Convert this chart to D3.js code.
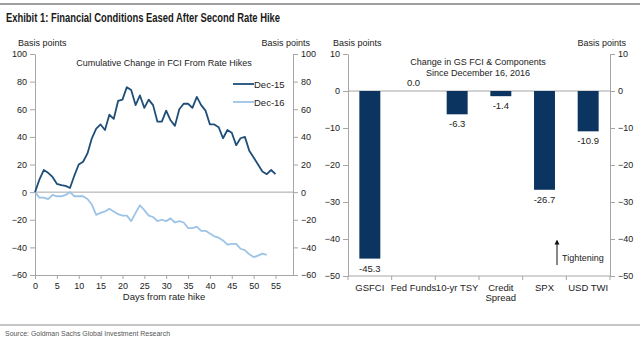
<!DOCTYPE html>
<html>
<head>
<meta charset="utf-8">
<script src="https://cdn.jsdelivr.net/npm/d3@7"></script>
<style>
  body { margin: 0; background: #fff; }
  svg text { font-family: "Liberation Sans", Arial, sans-serif; fill: #222; }
  .axis path, .axis line { stroke: #a6a6a6; }
</style>
</head>
<body>
<svg id="chart" width="640" height="343"></svg>
<script>
// left panel: cumulative change in FCI, days from rate hike
var dec15 = [0, 9, 16, 14, 11, 6, 5, 4.5, 3, 12, 20, 22, 28, 39, 46, 49, 45, 56, 53, 66,
  67, 76, 74, 63, 70, 61, 67, 63, 51, 51, 59, 52, 48, 60, 64, 64, 61, 69, 63, 59,
  49, 49, 47, 39, 45, 43, 34, 39, 40, 30, 25, 20, 15, 13, 16, 13];
var dec16 = [0, -4, -4, -5, -2, -3, -3, -2, 0, -3, -3, -3, -5, -9, -16.5, -15, -14, -12, -14, -16,
  -17, -17, -21, -15, -9.5, -13, -17, -18, -21, -20, -21, -19, -22, -21, -22, -26, -26, -25, -28, -28,
  -30, -32, -33, -35, -38, -37.5, -37.5, -41, -42, -45, -47, -46, -44.5, -45.5];
var seriesNames = ['Dec-15', 'Dec-16'];
var seriesColors = ['#1f4e79', '#9dc3e6'];
var leftTicksY = [-60, -40, -20, 0, 20, 40, 60, 80, 100];
var leftTicksX = [0, 5, 10, 15, 20, 25, 30, 35, 40, 45, 50, 55];

// right panel: change in GS FCI & components
var categories = ['GSFCI', 'Fed Funds', '10-yr TSY', 'Credit\nSpread', 'SPX', 'USD TWI'];
var changes = [-45.3, 0.0, -6.3, -1.4, -26.7, -10.9];
var rightTicksY = [-50, -40, -30, -20, -10, 0, 10];

var svg = d3.select('#chart');

// header / footer
svg.append('line').attr('x1', 0).attr('x2', 640).attr('y1', 4).attr('y2', 4)
  .attr('stroke', '#7f7f7f').attr('stroke-width', 1.5);
svg.append('text').attr('x', 6).attr('y', 22)
  .attr('textLength', 274).attr('lengthAdjust', 'spacingAndGlyphs')
  .style('font-weight', 'bold').style('font-size', '12px').style('fill', '#1a1a1a')
  .text('Exhibit 1: Financial Conditions Eased After Second Rate Hike');
svg.append('line').attr('x1', 0).attr('x2', 640).attr('y1', 325).attr('y2', 325)
  .attr('stroke', '#8c8c8c').attr('stroke-width', 1);
svg.append('text').attr('x', 5).attr('y', 336)
  .attr('textLength', 165).attr('lengthAdjust', 'spacingAndGlyphs')
  .style('font-size', '8px').style('fill', '#555')
  .text('Source: Goldman Sachs Global Investment Research');

function label(x, y, txt, anchor, size){
  return svg.append('text').attr('x', x).attr('y', y)
    .attr('text-anchor', anchor || 'start')
    .style('font-size', (size || 9) + 'px')
    .text(txt);
}

function styleAxis(g){
  g.attr('class', 'axis');
  g.selectAll('text').style('font-size', '9px').style('fill', '#222')
    .style('font-family', '"Liberation Sans", Arial, sans-serif');
}

// ---------- left panel ----------
var L = {left: 35, right: 293, top: 54, bottom: 275};

var x1 = d3.scaleLinear().domain([0, 59]).range([L.left, L.right]);
var y1 = d3.scaleLinear().domain([-60, 100]).range([L.bottom, L.top]);

svg.append('g').attr('transform', 'translate(' + L.left + ',0)')
  .call(d3.axisLeft(y1).tickValues(leftTicksY).tickSize(5).tickPadding(3).tickSizeOuter(0))
  .call(styleAxis);
svg.append('g').attr('transform', 'translate(' + L.right + ',0)')
  .call(d3.axisRight(y1).tickValues(leftTicksY).tickSize(5).tickPadding(3).tickSizeOuter(0))
  .call(styleAxis);
svg.append('g').attr('transform', 'translate(0,' + L.bottom + ')')
  .call(d3.axisBottom(x1).tickValues(leftTicksX).tickSize(4).tickPadding(4).tickSizeOuter(0))
  .call(styleAxis);
svg.append('line').attr('x1', L.left).attr('x2', L.right)
  .attr('y1', y1(0)).attr('y2', y1(0)).attr('stroke', '#a6a6a6');

var line = d3.line().x(function(d, i){ return x1(i); }).y(function(d){ return y1(d); });

[dec16, dec15].forEach(function(s, k){
  svg.append('path').datum(s).attr('d', line).attr('fill', 'none')
    .attr('stroke', seriesColors[1 - k]).attr('stroke-width', 1.8)
    .attr('stroke-linejoin', 'round');
});

label(18, 46, 'Basis points');
label(310, 46, 'Basis points', 'end');
label(164, 66, 'Cumulative  Change  in FCI From Rate Hikes', 'middle');
label(164, 300, 'Days from rate hike', 'middle', 9.5);

seriesNames.forEach(function(n, i){
  var yy = 84 + i * 18;
  svg.append('line').attr('x1', 233).attr('x2', 254).attr('y1', yy).attr('y2', yy)
    .attr('stroke', seriesColors[i]).attr('stroke-width', 1.8);
  label(254, yy + 3.5, n, 'start', 9.5);
});

// ---------- right panel ----------
var R = {left: 348, right: 610, top: 54, bottom: 276};

var x2 = d3.scaleBand().domain(categories).range([R.left, R.right]).paddingInner(0.52).paddingOuter(0.26);
var y2 = d3.scaleLinear().domain([-50, 10]).range([R.bottom, R.top]);

svg.append('g').attr('transform', 'translate(' + R.left + ',0)')
  .call(d3.axisLeft(y2).tickValues(rightTicksY).tickSize(5).tickPadding(3).tickSizeOuter(0))
  .call(styleAxis);
svg.append('g').attr('transform', 'translate(' + R.right + ',0)')
  .call(d3.axisRight(y2).tickValues(rightTicksY).tickSize(5).tickPadding(3).tickSizeOuter(0))
  .call(styleAxis);

// category axis with ticks at band boundaries
var step = (R.right - R.left) / categories.length;
svg.append('line').attr('x1', R.left).attr('x2', R.right)
  .attr('y1', R.bottom).attr('y2', R.bottom).attr('stroke', '#a6a6a6');
d3.range(categories.length + 1).forEach(function(i){
  svg.append('line').attr('x1', R.left + i * step).attr('x2', R.left + i * step)
    .attr('y1', R.bottom).attr('y2', R.bottom + 4).attr('stroke', '#a6a6a6');
});
categories.forEach(function(c){
  var cx = x2(c) + x2.bandwidth() / 2;
  c.split('\n').forEach(function(part, j){
    label(cx, 291 + j * 10, part, 'middle', 9.5);
  });
});

svg.append('line').attr('x1', R.left).attr('x2', R.right)
  .attr('y1', y2(0)).attr('y2', y2(0)).attr('stroke', '#a6a6a6');

svg.selectAll('rect.bar').data(changes).enter().append('rect')
  .attr('class', 'bar')
  .attr('x', function(d, i){ return x2(categories[i]); })
  .attr('width', x2.bandwidth())
  .attr('y', function(d){ return y2(Math.max(0, d)); })
  .attr('height', function(d){ return Math.abs(y2(d) - y2(0)); })
  .attr('fill', '#0b3560');

changes.forEach(function(d, i){
  var cx = x2(categories[i]) + x2.bandwidth() / 2;
  var yy = d < 0 ? y2(d) + 13 : y2(d) - 5;
  label(cx, yy, d.toFixed(1), 'middle', 9.5);
});

label(333, 46, 'Basis points');
label(626, 46, 'Basis points', 'end');
label(478, 65, 'Change  in GS FCI  & Components', 'middle');
label(478, 76, 'Since December  16, 2016', 'middle');

// tightening arrow
svg.append('defs').append('marker').attr('id', 'arr')
  .attr('viewBox', '0 0 10 10').attr('refX', 5).attr('refY', 5)
  .attr('markerWidth', 5).attr('markerHeight', 6).attr('orient', 'auto')
  .append('path').attr('d', 'M0,0L10,5L0,10z').attr('fill', '#111');
svg.append('line').attr('x1', 557).attr('x2', 557).attr('y1', 265).attr('y2', 242)
  .attr('stroke', '#111').attr('stroke-width', 1).attr('marker-end', 'url(#arr)');
label(562, 261, 'Tightening', 'start', 9);
</script>
</body>
</html>
